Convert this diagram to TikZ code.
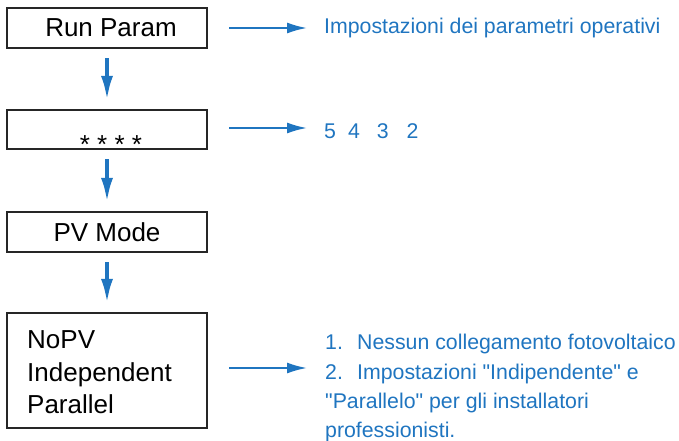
\documentclass[tikz,border=0pt]{standalone}
\usepackage{fontspec}
\setmainfont{Liberation Sans}[Ligatures=TeXOff]
\usetikzlibrary{arrows.meta}
\definecolor{myblue}{RGB}{31,117,192}
\begin{document}
\begin{tikzpicture}[x=1pt,y=-1pt,
  box/.style={draw=black!85,line width=2.2pt,minimum width=200pt,inner sep=0pt,font=\fontsize{26}{33}\selectfont},
  vflow/.style={draw=myblue,line width=4pt,-{Latex[length=25pt,width=12pt]},shorten <=9pt,shorten >=8pt},
  hflow/.style={draw=myblue,line width=2pt,-{Latex[length=20pt,width=11pt]}},
  note/.style={text=myblue,inner sep=0pt,anchor=base west,font=\fontsize{21.3}{29.5}\selectfont},
  boxtext/.style={inner sep=0pt,anchor=base west,font=\fontsize{26}{33}\selectfont}]
\useasboundingbox (0,0) rectangle (679,441);
% boxes
\node[box,minimum height=40pt] (run) at (107,28) {\hspace*{8pt}Run Param};
\node[box,minimum height=39pt] (pw) at (107,129.5) {};
\node[inner sep=0pt,anchor=base,font=\fontsize{26}{33}\selectfont] (stars) at (111,153) {* * * *};
\node[box,minimum height=40pt] (pv) at (107,232) {PV Mode};
\node[box,minimum height=115pt] (mode) at (107,370.5) {};
\node[boxtext] (l1) at (27,348) {NoPV};
\node[boxtext] (l2) at (27,381) {Independent};
\node[boxtext] (l3) at (27,413) {Parallel};
% vertical arrows
\draw[vflow] (run.south) -- (pw.north);
\draw[vflow] (pw.south) -- (pv.north);
\draw[vflow] (pv.south) -- (mode.north);
% right side
\coordinate (a1s) at (229,28); \coordinate (a1e) at (307,28);
\coordinate (a2s) at (229,128); \coordinate (a2e) at (307,128);
\coordinate (a3s) at (229,368); \coordinate (a3e) at (307,368);
\draw[hflow] (a1s) -- (a1e);
\draw[hflow] (a2s) -- (a2e);
\draw[hflow] (a3s) -- (a3e);
\node[note] (t1) at (324,34) {Impostazioni dei parametri operativi};
\node[note] (t2) at (324,138) {5\hspace{12pt}4\hspace{17pt}3\hspace{18pt}2};
\node[note] (b1) at (325,349) {\makebox[32pt][l]{1.}Nessun collegamento fotovoltaico};
\node[note] (b2) at (325,379) {\makebox[32pt][l]{2.}Impostazioni "Indipendente" e};
\node[note] (b3) at (325,408) {"Parallelo" per gli installatori};
\node[note] (b4) at (325,437) {professionisti.};
\end{tikzpicture}
\end{document}
